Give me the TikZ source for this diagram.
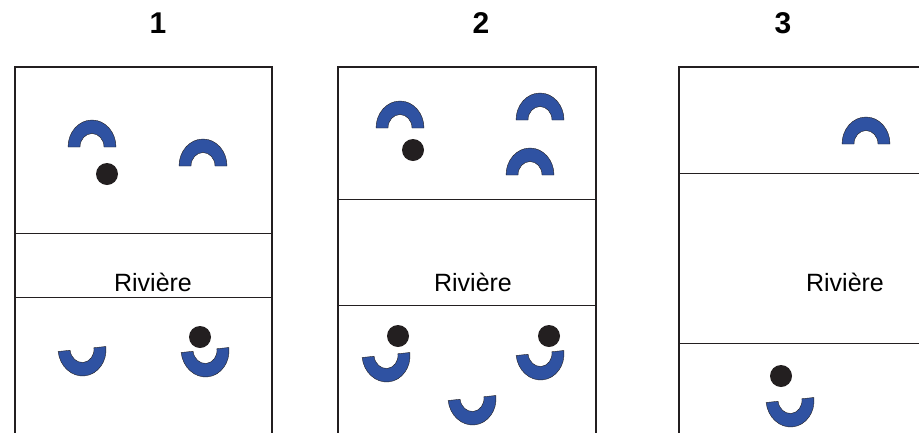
\documentclass[tikz,border=0pt]{standalone}
\usepackage{fontspec}
\setmainfont{Liberation Sans}
\definecolor{cblue}{RGB}{47,82,162}
\definecolor{cdark}{RGB}{35,31,32}

\begin{document}
\begin{tikzpicture}[x=1pt,y=1pt,
        bank/.style={draw=cdark,line width=2.2pt},
        shore/.style={draw=cdark,line width=0.9pt},
        ball/.style={circle,fill=cdark,inner sep=0pt,minimum size=22pt},
        rivlab/.style={font=\fontsize{25}{30}\selectfont,anchor=base},
        numlab/.style={font=\bfseries\fontsize{30}{36}\selectfont,anchor=base},
        half/.pic={\filldraw[fill=cblue,draw=cdark,line width=0.4pt]
          (-24,0) arc[start angle=180,end angle=0,x radius=24,y radius=27]
          -- (12,0) arc[start angle=0,end angle=180,x radius=12,y radius=13.5]
          -- cycle;}]

      \useasboundingbox (0,0) rectangle (919,-432);
      \clip (0,0) rectangle (919,-432);

      \draw[bank] (15,-450) |- (272,-67) -- (272,-450);                 % panel 1
      \draw[bank] (338,-450) |- (596,-67) -- (596,-450);                % panel 2
      \draw[bank] (679,-450) |- (940,-67);                              % panel 3

      \draw[shore] (15,-233) -- (272,-233);
      \draw[shore] (15,-297) -- (272,-297);
      \draw[shore] (338,-199) -- (596,-199);
      \draw[shore] (338,-305) -- (596,-305);
      \draw[shore] (679,-173) -- (919,-173);
      \draw[shore] (679,-343) -- (919,-343);

      \node[numlab] (n1) at (158,-33) {1};
      \node[numlab] (n2) at (481,-33) {2};
      \node[numlab] (n3) at (783,-33) {3};

      \node[rivlab] (r1) at (153,-291) {Rivière};
      \node[rivlab] (r2) at (473,-291) {Rivière};
      \node[rivlab] (r3) at (845,-291) {Rivière};

      % panel 1
      \pic at (92,-147) {half};
      \pic at (203,-166) {half};
      \node[ball] (b11) at (107,-174) {};
      \pic[rotate=186] at (82,-349) {half};
      \pic[rotate=186] at (205,-350) {half};
      \node[ball] (b12) at (200,-337) {};

      % panel 2
      \pic at (400,-128) {half};
      \pic at (540,-120) {half};
      \pic at (530,-175) {half};
      \node[ball] (b21) at (413,-150) {};
      \pic[rotate=186] at (386,-355) {half};
      \pic[rotate=186] at (540,-353) {half};
      \pic[rotate=186] at (472,-398) {half};
      \node[ball] (b22) at (398,-336) {};
      \node[ball] (b23) at (549,-336) {};

      % panel 3
      \pic at (866,-144) {half};
      \pic[rotate=186] at (790,-400) {half};
      \node[ball] (b31) at (781,-376) {};
    \end{tikzpicture}
\end{document}
